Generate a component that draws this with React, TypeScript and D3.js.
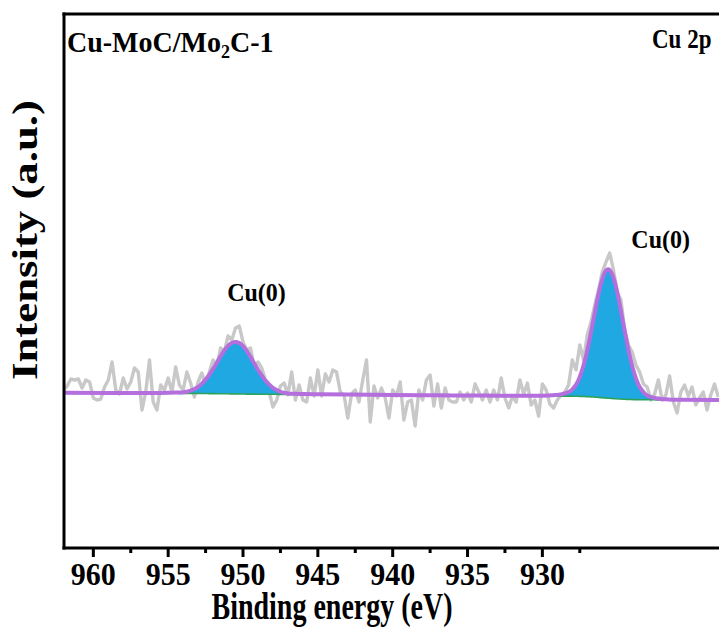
import { useEffect } from "react";
import * as d3 from "d3";

// raw Cu 2p spectrum, 962 eV down in 0.25 eV steps
const rawStart = 962;
const rawStep = 0.25;
const rawCounts = [
  3580, 3620, 3690, 3680, 3690, 3600, 3680, 3660, 3500, 3480,
  3490, 3610, 3680, 3860, 3580, 3540, 3700, 3590, 3660, 3800,
  3760, 3380, 3560, 3880, 3460, 3380, 3630, 3580, 3700, 3560,
  3810, 3630, 3580, 3760, 3650, 3510, 3660, 3750, 3630, 3760,
  3880, 3820, 4000, 3960, 4120, 4080, 4200, 4220, 4060, 3980,
  4000, 3820, 3860, 3800, 3680, 3560, 3410, 3480, 3620, 3650,
  3530, 3760, 3480, 3630, 3480, 3460, 3700, 3520, 3780, 3520,
  3740, 3660, 3780, 3760, 3560, 3530, 3300, 3540, 3580, 3460,
  3680, 3880, 3260, 3620, 3500, 3600, 3500, 3300, 3580, 3520,
  3660, 3280, 3460, 3480, 3220, 3580, 3480, 3680, 3730, 3420,
  3640, 3400, 3600, 3480, 3460, 3460, 3560, 3480, 3550, 3460,
  3640, 3560, 3480, 3580, 3460, 3580, 3480, 3700, 3500, 3400,
  3520, 3460, 3680, 3540, 3650, 3430, 3480, 3320, 3640, 3580,
  3440, 3400, 3480, 3530, 3560, 3630, 3880, 3780, 4030, 3880,
  4130, 4260, 4430, 4580, 4760, 4860, 4950, 4780, 4560, 4480,
  4180, 4030, 3960, 3830, 3760, 3640, 3610, 3480, 3540, 3680,
  3480, 3530, 3720, 3460, 3350, 3560, 3630, 3520, 3610, 3430,
  3500, 3560, 3380, 3530, 3640, 3510,
];

// fit grid: background and the two Cu(0) components (above background)
const fitEnergy = [
  962, 959, 957, 956, 955, 954.5, 954, 953.75, 953.5, 953.25,
  953, 952.75, 952.5, 952.25, 952, 951.75, 951.5, 951.25, 951, 950.75,
  950.5, 950.25, 950, 949.75, 949.5, 949.25, 949, 948.75, 948.5, 948.25,
  948, 947.75, 947.5, 947.25, 947, 946.5, 946, 945, 943, 940,
  937, 934, 932, 930.5, 929.6, 929.1, 928.6, 928.35, 928.1, 927.85,
  927.6, 927.35, 927.1, 926.85, 926.6, 926.35, 926.1, 925.85, 925.6, 925.35,
  925.1, 924.85, 924.6, 924.35, 924.1, 923.85, 923.6, 923.35, 923.1, 922.6,
  922.1, 921.6, 920.6, 918.2,
];
const fitBackground = [
  3552, 3550, 3549, 3548, 3547, 3547, 3546, 3546, 3546, 3546,
  3545, 3545, 3545, 3544, 3544, 3543, 3543, 3542, 3542, 3541,
  3541, 3540, 3540, 3539, 3539, 3538, 3538, 3538, 3537, 3537,
  3537, 3537, 3536, 3536, 3536, 3536, 3535, 3535, 3534, 3530,
  3527, 3524, 3522, 3520, 3520, 3520, 3519, 3519, 3518, 3518,
  3517, 3516, 3514, 3512, 3510, 3507, 3504, 3501, 3498, 3495,
  3492, 3490, 3488, 3486, 3485, 3484, 3483, 3483, 3482, 3482,
  3481, 3481, 3480, 3479,
];
const fitPeak1 = [
  0, 0, 1, 2, 5, 7, 11, 17, 27, 44,
  66, 99, 139, 190, 247, 310, 374, 433, 479, 510,
  520, 509, 478, 432, 372, 308, 245, 188, 137, 98,
  65, 43, 26, 16, 10, 6, 4, 2, 1, 0,
  0, 0, 0, 0, 0, 0, 0, 0, 0, 0,
  0, 0, 0, 0, 0, 0, 0, 0, 0, 0,
  0, 0, 0, 0, 0, 0, 0, 0, 0, 0,
  0, 0, 0, 0,
];
const fitPeak2 = [
  0, 0, 0, 0, 0, 0, 0, 0, 0, 0,
  0, 0, 0, 0, 0, 0, 0, 0, 0, 0,
  0, 0, 0, 0, 0, 0, 0, 0, 0, 0,
  0, 0, 0, 0, 0, 0, 0, 0, 0, 0,
  0, 0, 1, 3, 5, 10, 22, 34, 55, 95,
  158, 260, 398, 570, 765, 960, 1132, 1248, 1290, 1246,
  1130, 958, 762, 568, 396, 258, 156, 94, 54, 22,
  10, 5, 2, 0,
];

const majorTicks = [960, 955, 950, 945, 940, 935, 930];
const minorTicks = [957.5, 952.5, 947.5, 942.5, 937.5, 932.5, 927.5];

const peakLabels = ["Cu(0)", "Cu(0)"];
const peakLabelAt = [
  [949.1, 4470],
  [922.1, 5000],
];

const W = 719;
const H = 639;
const plot = { left: 64, top: 14, right: 719, bottom: 548 };
const serif = "'Liberation Serif', 'Times New Roman', serif";

export default function App() {
  useEffect(() => {
    document.body.style.margin = "0";
  }, []);

  const x = d3.scaleLinear().domain([962, 918.2]).range([63.4, 719]);
  const y = d3.scaleLinear().domain([2000, 7340]).range([548, 14]);

  const raw = rawCounts.map((c, i) => [rawStart - i * rawStep, c] as [number, number]);
  const fit = fitEnergy.map((e, i) => ({
    e,
    bg: fitBackground[i],
    p1: fitPeak1[i],
    p2: fitPeak2[i],
  }));

  const rawLine = d3.line<[number, number]>().x((d) => x(d[0])).y((d) => y(d[1]));
  const bgLine = d3.line<any>().x((d) => x(d.e)).y((d) => y(d.bg)).curve(d3.curveMonotoneX);
  const envLine = d3
    .line<any>()
    .x((d) => x(d.e))
    .y((d) => y(d.bg + d.p1 + d.p2))
    .curve(d3.curveMonotoneX);
  const area1 = d3
    .area<any>()
    .x((d) => x(d.e))
    .y0((d) => y(d.bg))
    .y1((d) => y(d.bg + d.p1))
    .curve(d3.curveMonotoneX);
  const area2 = d3
    .area<any>()
    .x((d) => x(d.e))
    .y0((d) => y(d.bg))
    .y1((d) => y(d.bg + d.p2))
    .curve(d3.curveMonotoneX);

  return (
    <svg width={W} height={H} style={{ display: "block", background: "#fff" }}>
      <defs>
        <clipPath id="plotClip">
          <rect x={plot.left} y={plot.top} width={plot.right - plot.left} height={plot.bottom - plot.top} />
        </clipPath>
      </defs>

      <g clipPath="url(#plotClip)">
        <path d={rawLine(raw) || ""} fill="none" stroke="#c8c8c8" strokeWidth={3.4} strokeLinejoin="round" />
        <path d={area1(fit) || ""} fill="#1fa8e2" />
        <path d={area2(fit) || ""} fill="#1fa8e2" />
        <path d={bgLine(fit) || ""} fill="none" stroke="#2ca35a" strokeWidth={1.6} />
        <path d={envLine(fit) || ""} fill="none" stroke="#b46ede" strokeWidth={4} strokeLinejoin="round" />
      </g>

      {/* frame */}
      <line x1={plot.left} x2={plot.left} y1={plot.top - 1.5} y2={plot.bottom + 1.5} stroke="#000" strokeWidth={3} />
      <line x1={plot.left - 1.5} x2={plot.right} y1={plot.top} y2={plot.top} stroke="#000" strokeWidth={3} />
      <line x1={plot.left - 1.5} x2={plot.right} y1={plot.bottom} y2={plot.bottom} stroke="#000" strokeWidth={3} />

      {majorTicks.map((t) => (
        <g key={t}>
          <line x1={x(t)} x2={x(t)} y1={plot.bottom} y2={plot.bottom + 9} stroke="#000" strokeWidth={3} />
          <text
            transform={`translate(${x(t)},585) scale(1,1.08)`}
            textAnchor="middle"
            fontFamily={serif}
            fontWeight="bold"
            fontSize={30}
          >
            {t}
          </text>
        </g>
      ))}
      {minorTicks.map((t) => (
        <line key={t} x1={x(t)} x2={x(t)} y1={plot.bottom} y2={plot.bottom + 5} stroke="#000" strokeWidth={3} />
      ))}

      <text
        transform="translate(332,619) scale(1,1.35)"
        textAnchor="middle"
        fontFamily={serif}
        fontWeight="bold"
        fontSize={28}
      >
        Binding energy (eV)
      </text>
      <text
        transform="translate(37,240) rotate(-90) scale(1.28,1)"
        textAnchor="middle"
        fontFamily={serif}
        fontWeight="bold"
        fontSize={35}
      >
        Intensity (a.u.)
      </text>

      <text
        transform="translate(67,52) scale(1,1.06)"
        fontFamily={serif}
        fontWeight="bold"
        fontSize={28}
      >
        Cu-MoC/Mo
        <tspan fontSize={18} dy={6}>2</tspan>
        <tspan dy={-6}>C-1</tspan>
      </text>
      <text
        transform="translate(652,48) scale(1,1.2)"
        fontFamily={serif}
        fontWeight="bold"
        fontSize={23}
      >
        Cu 2p
      </text>

      {peakLabels.map((p, i) => (
        <text
          key={i}
          transform={`translate(${x(peakLabelAt[i][0])},${y(peakLabelAt[i][1])}) scale(1,1.05)`}
          textAnchor="middle"
          fontFamily={serif}
          fontWeight="bold"
          fontSize={24}
        >
          {p}
        </text>
      ))}
    </svg>
  );
}
